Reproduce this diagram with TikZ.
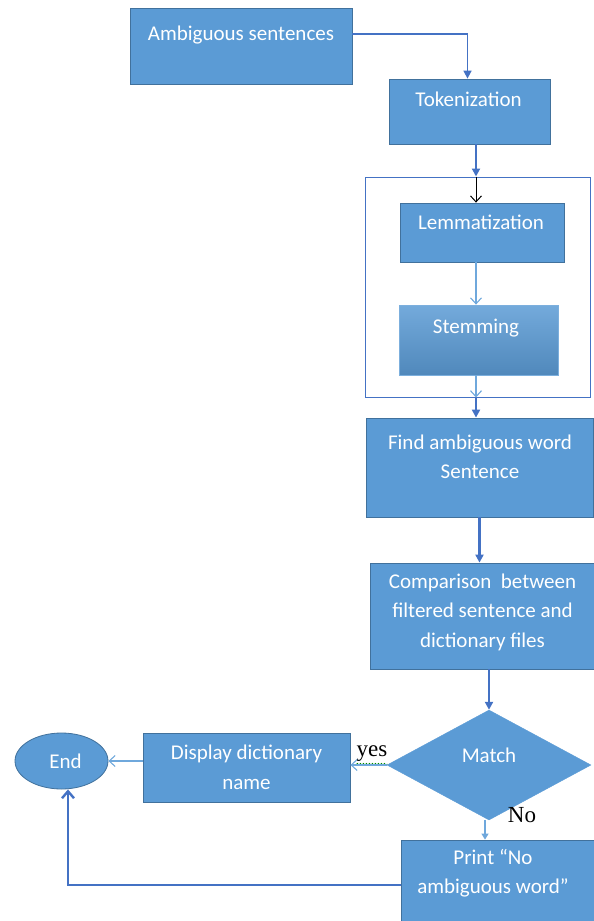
\documentclass[tikz,border=0pt]{standalone}
\usepackage{fontspec}
\setmainfont{Carlito}
\newfontfamily\labelserif{Liberation Serif}
\usepackage{xcolor}
\usetikzlibrary{shapes.geometric, arrows.meta, positioning, decorations.pathmorphing}

\definecolor{boxblue}{HTML}{5B9BD5}
\definecolor{boxline}{HTML}{41719C}
\definecolor{linkblue}{HTML}{4472C4}
\definecolor{lightlink}{HTML}{6FA8DC}

\begin{document}
\begin{tikzpicture}[
        x=1pt, y=-1pt,
        box/.style={rectangle, draw=boxline, fill=boxblue, line width=0.8pt, inner sep=0pt},
        txt/.style={text=white, font=\fontsize{21}{29.5}\selectfont, align=center, inner sep=0pt},
        branch/.style={text=black, font=\labelserif\fontsize{23}{26}\selectfont, inner sep=0pt},
        arrow/.style={-{Triangle[length=8pt, width=8pt]}, line width=2.3pt, color=linkblue},
        thin arrow/.style={-{Straight Barb[length=6pt, width=11pt]}, line width=1.1pt, color=lightlink},
        black arrow/.style={-{Straight Barb[length=6pt, width=11pt]}, line width=1pt, color=black},
        back arrow/.style={-{Straight Barb[length=7pt, width=12pt]}, line width=2.4pt, color=linkblue}
    ]
    \useasboundingbox (0,0) rectangle (594,921);

    % Input and tokenization
    \node[box, minimum width=222pt, minimum height=76pt] (sent) at (241,46) {};
    \node[txt] (sent-t) at (241,35) {Ambiguous sentences};
    \node[box, minimum width=161pt, minimum height=65pt] (tok) at (469.5,111.5) {};
    \node[txt] (tok-t) at (468.5,99) {Tokenization};

    % Preprocessing group
    \coordinate (spine) at (476,0);
    \node[rectangle, draw=linkblue, line width=1pt, minimum width=225pt, minimum height=220pt] (group) at (477.5,287) {};
    \node[box, minimum width=164pt, minimum height=59pt] (lem) at (482,232.5) {};
    \node[txt] (lem-t) at (481,222) {Lemmatization};
    \node[box, minimum width=159pt, minimum height=70pt, draw=boxblue!80!white, top color=boxblue!85!white, bottom color=boxblue!88!black] (stem) at (478.5,340) {};
    \node[txt] (stem-t) at (476,328) {Stemming};

    % Search and comparison
    \node[box, minimum width=227pt, minimum height=99pt] (find) at (479.5,467.5) {};
    \node[txt] (find-t) at (480,457) {Find ambiguous word\\Sentence};
    \node[box, minimum width=224pt, minimum height=106pt] (comp) at (482,616) {};
    \node[txt] (comp-t) at (482.5,612) {Comparison\ \ between\\filtered sentence and\\dictionary files};

    % Decision and outputs
    \node[diamond, draw=boxblue, fill=boxblue, inner sep=0pt, minimum width=204pt, minimum height=110pt] (match) at (489,765) {};
    \node[txt] (match-t) at (489,755) {Match};
    \node[box, minimum width=207pt, minimum height=69pt, txt] (disp) at (246.5,767.5) {Display dictionary\\name};
    \node[ellipse, draw=boxline, fill=boxblue, line width=0.8pt, minimum width=93pt, minimum height=56pt, txt] (end) at (61.5,761) {\hspace*{8pt}End};
    \node[box, minimum width=193pt, minimum height=90pt] (print) at (497.5,885) {};
    \node[txt] (print-t) at (493,873) {Print “No\\ambiguous word”};

    % Branch labels
    \node[branch] (yes) at (372,754) {yes};
    \node[branch] (no) at (522,815) {No};
    \draw[green!55!black, line width=0.6pt, decorate, decoration={snake, amplitude=0.8pt, segment length=3pt}] ([yshift=-2pt]yes.south west) -- ([yshift=-2pt]yes.south east);

    % Main flow
    \draw[arrow, line width=1.6pt] ([yshift=12pt]sent.east) -| ([xshift=-2pt]tok.north);
    \draw[arrow] (tok.south -| spine) -- (group.north -| spine);
    \draw[black arrow] (group.north -| spine) -- (lem.north -| spine);
    \draw[thin arrow] (lem.south -| spine) -- (stem.north -| spine);
    \draw[thin arrow] (stem.south -| spine) -- (group.south -| spine);
    \draw[arrow] (group.south -| spine) -- (find.north -| spine);
    \draw[arrow] (find.south) -- (find.south |- comp.north);
    \draw[arrow] (comp.south -| match.north) -- (match.north);

    % Decision branches
    \draw[thin arrow] (match.west) -- (match.west -| disp.east);
    \draw[thin arrow] (disp.west |- end.east) -- (end.east);
    \draw[-{Triangle[length=6pt, width=7pt]}, line width=1.2pt, color=lightlink] ([xshift=-4pt]match.south) -- ([xshift=-4pt]match.south |- print.north);
    \draw[back arrow] (print.west) -| ([xshift=6.5pt]end.south);

    \end{tikzpicture}
\end{document}
